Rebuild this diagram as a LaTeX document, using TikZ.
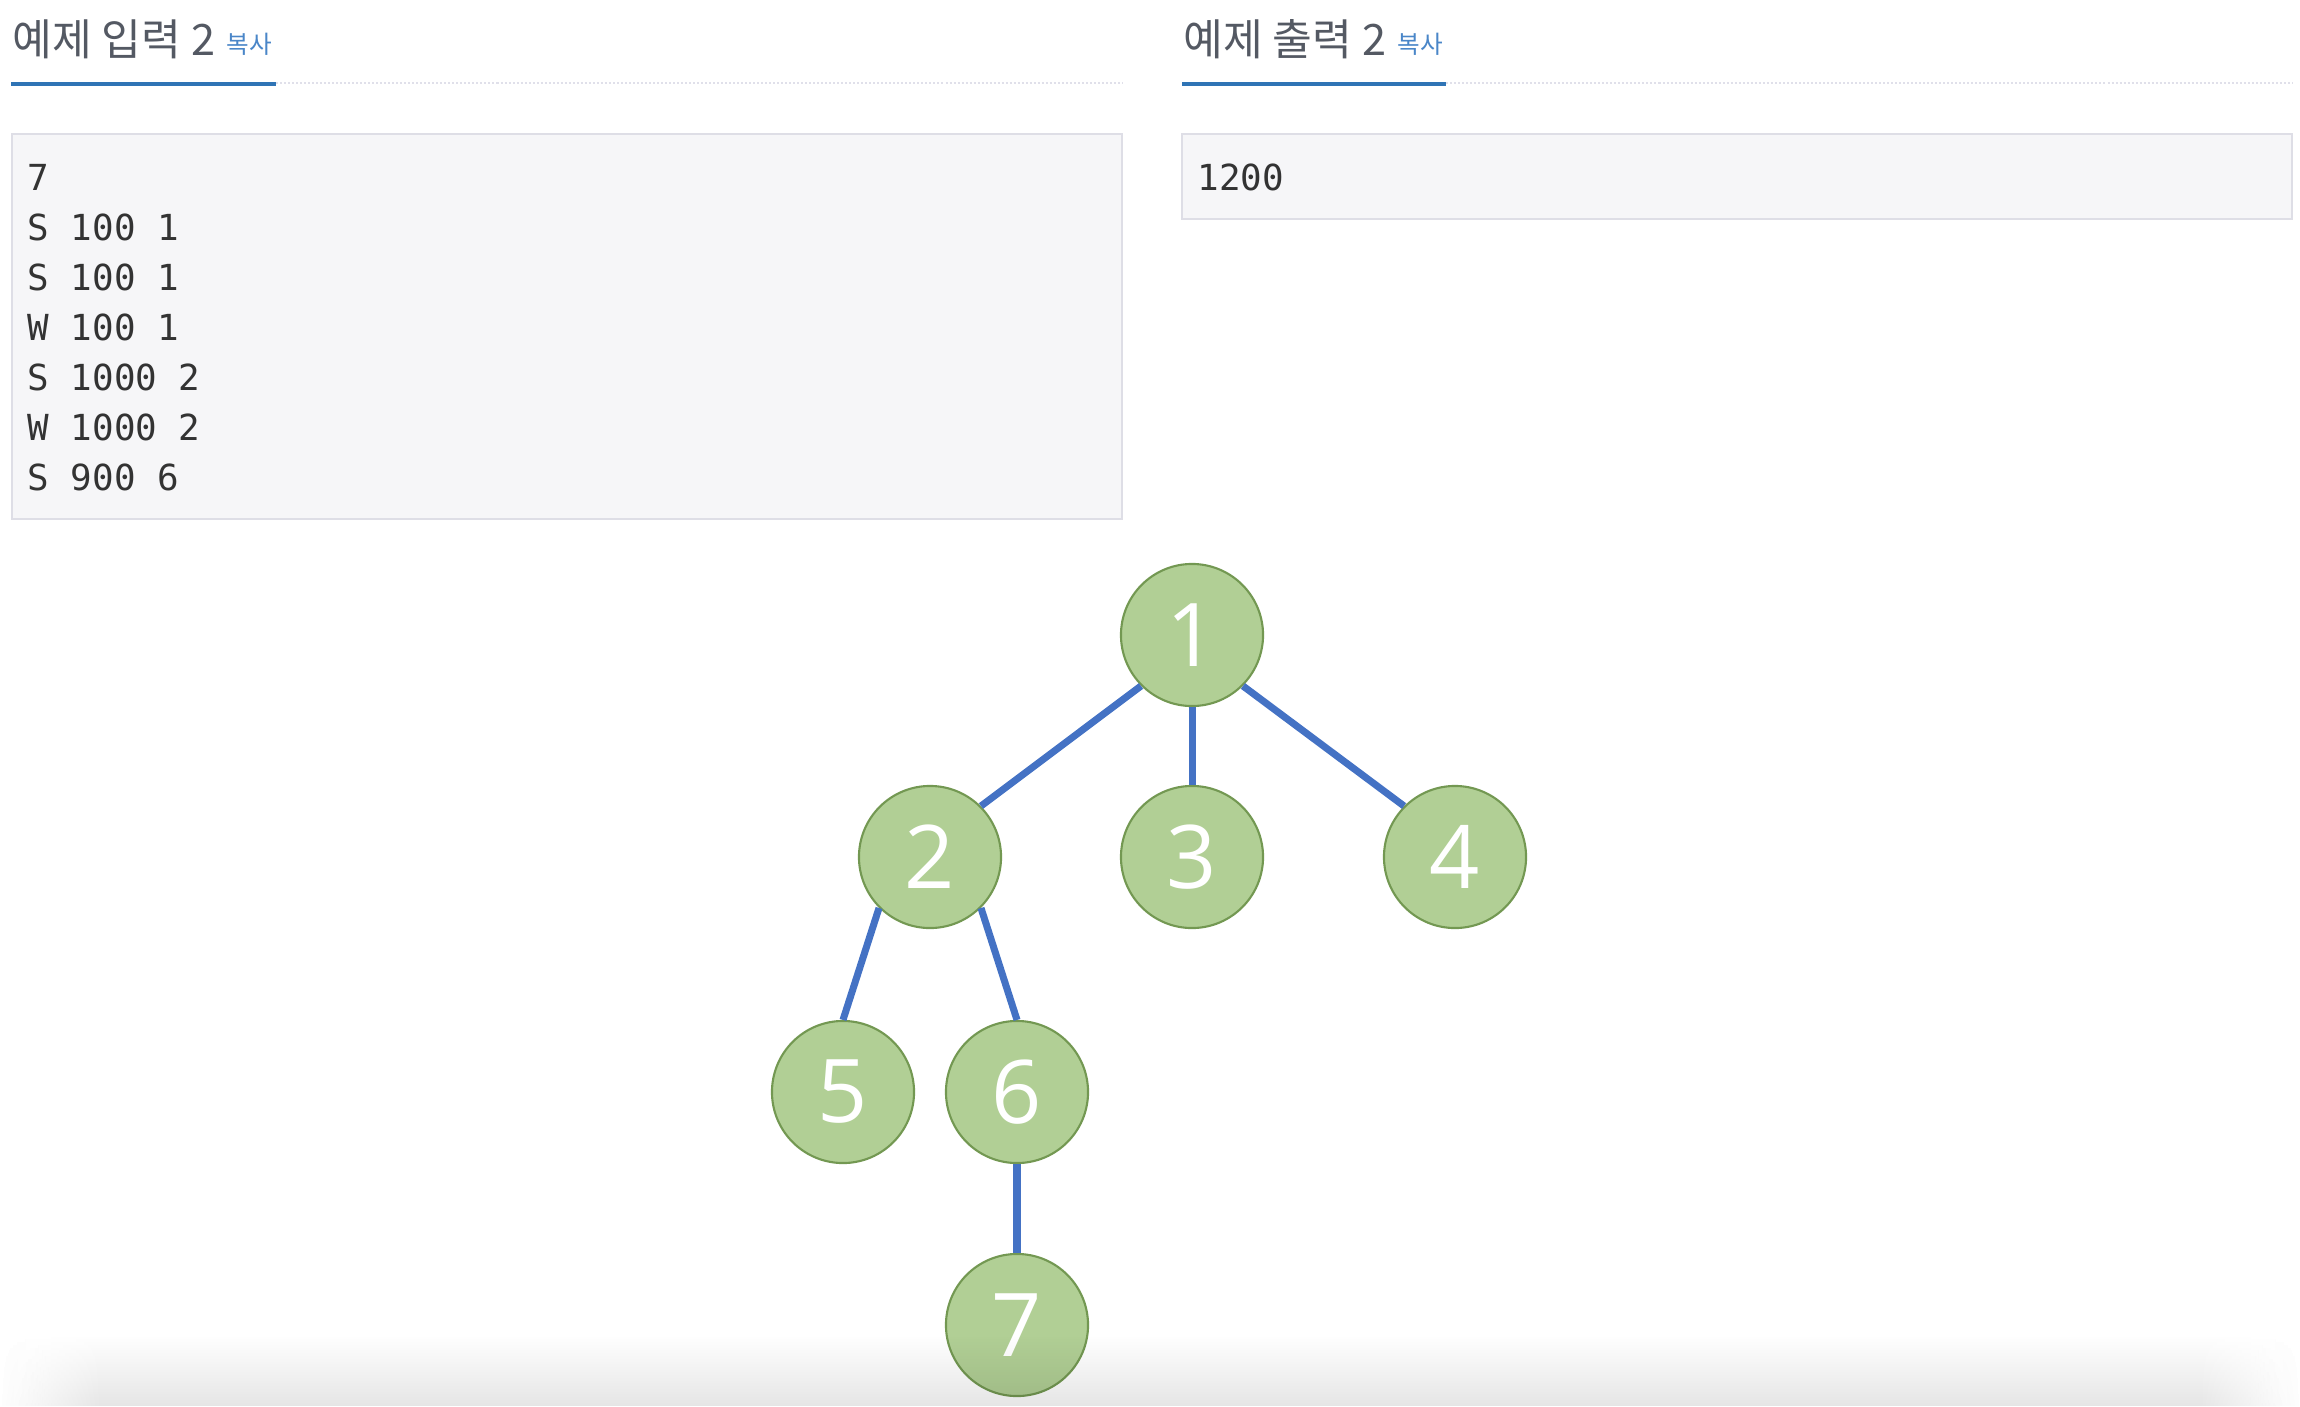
\documentclass[tikz,border=0pt]{standalone}
\usepackage{fontspec}
\usetikzlibrary{positioning,fadings}
\newfontfamily\krfont{Noto Sans CJK KR}
\newfontfamily\codefont{DejaVu Sans Mono}
\newfontfamily\numfont{Open Sans}
\definecolor{headgray}{RGB}{84,89,99}
\definecolor{copyblue}{RGB}{74,134,200}
\definecolor{tabblue}{RGB}{47,116,181}
\definecolor{ruleline}{RGB}{224,224,234}
\definecolor{boxfill}{RGB}{246,246,248}
\definecolor{boxline}{RGB}{222,222,230}
\definecolor{codetext}{RGB}{51,51,51}
\definecolor{leaf}{RGB}{177,207,149}
\definecolor{leafline}{RGB}{115,152,82}
\definecolor{linkblue}{RGB}{68,114,196}
\tikzset{
  title/.style={anchor=base west, inner sep=0pt, text=headgray, font=\krfont\fontsize{12.3}{14}\selectfont},
  copylink/.style={anchor=base west, inner sep=0pt, text=copyblue, font=\krfont\fontsize{7}{8}\selectfont},
  tabline/.style={draw=tabblue, line width=1.14pt},
  ruleline/.style={draw=ruleline, line width=0.45pt, dash pattern=on 0.57pt off 0.57pt},
  samplebox/.style={draw=boxline, fill=boxfill, line width=0.5pt},
  codeline/.style={anchor=base west, inner sep=0pt, text=codetext, font=\codefont\fontsize{10.2}{12}\selectfont},
  vertex/.style={circle, draw=leafline, fill=leaf, line width=0.6pt, minimum size=1.42cm, inner sep=0pt, text=white, font=\numfont\fontsize{25}{25}\selectfont},
  link/.style={draw=linkblue, line width=2pt}
}
\begin{document}
\begin{tikzpicture}[x=0.01cm,y=-0.01cm]
    \useasboundingbox (0,0) rectangle (2300,1406);
    % sample input
    \node[title] (intitle) at (12,55) {예제 입력 2};
    \node[copylink] (incopy) at (226,54) {복사};
    \draw[ruleline] (276,83) -- (1122,83);
    \draw[tabline] (11,84) -- (276,84);
    \draw[samplebox] (12,134) rectangle (1122,519);
    \foreach \txt [count=\i from 0] in {7,S 100 1,S 100 1,W 100 1,S 1000 2,W 1000 2,S 900 6}
        \node[codeline] (in\i) at (27,{190+50*\i}) {\txt};
    % sample output
    \node[title] (outtitle) at (1183,55) {예제 출력 2};
    \node[copylink] (outcopy) at (1397,54) {복사};
    \draw[ruleline] (1446,83) -- (2292,83);
    \draw[tabline] (1182,84) -- (1446,84);
    \draw[samplebox] (1182,134) rectangle (2292,219);
    \node[codeline] (out0) at (1197,190) {1200};
    % tree
    \node[vertex] (n1) at (1192,635) {1};
    \node[vertex] (n2) at (930,857) {2};
    \node[vertex] (n3) at (1192,857) {3};
    \node[vertex] (n4) at (1455,857) {4};
    \node[vertex] (n5) at (843,1092) {5};
    \node[vertex] (n6) at (1017,1092) {6};
    \node[vertex] (n7) at (1017,1325) {7};
    \path[link]
    (n1.south west) edge (n2.north east)
    (n1.south) edge (n3.north)
    (n1.south east) edge (n4.north west)
    (n2.south west) edge (n5.north)
    (n2.south east) edge (n6.north)
    (n6.south) edge (n7.north);
    % shadow at the bottom
    \fill[black, fill opacity=0.1, path fading=north] (0,1335) rectangle (2300,1406);
    \fill[white, path fading=east] (0,1300) rectangle (100,1406);
    \fill[white, path fading=west] (2200,1300) rectangle (2300,1406);
\end{tikzpicture}
\end{document}
